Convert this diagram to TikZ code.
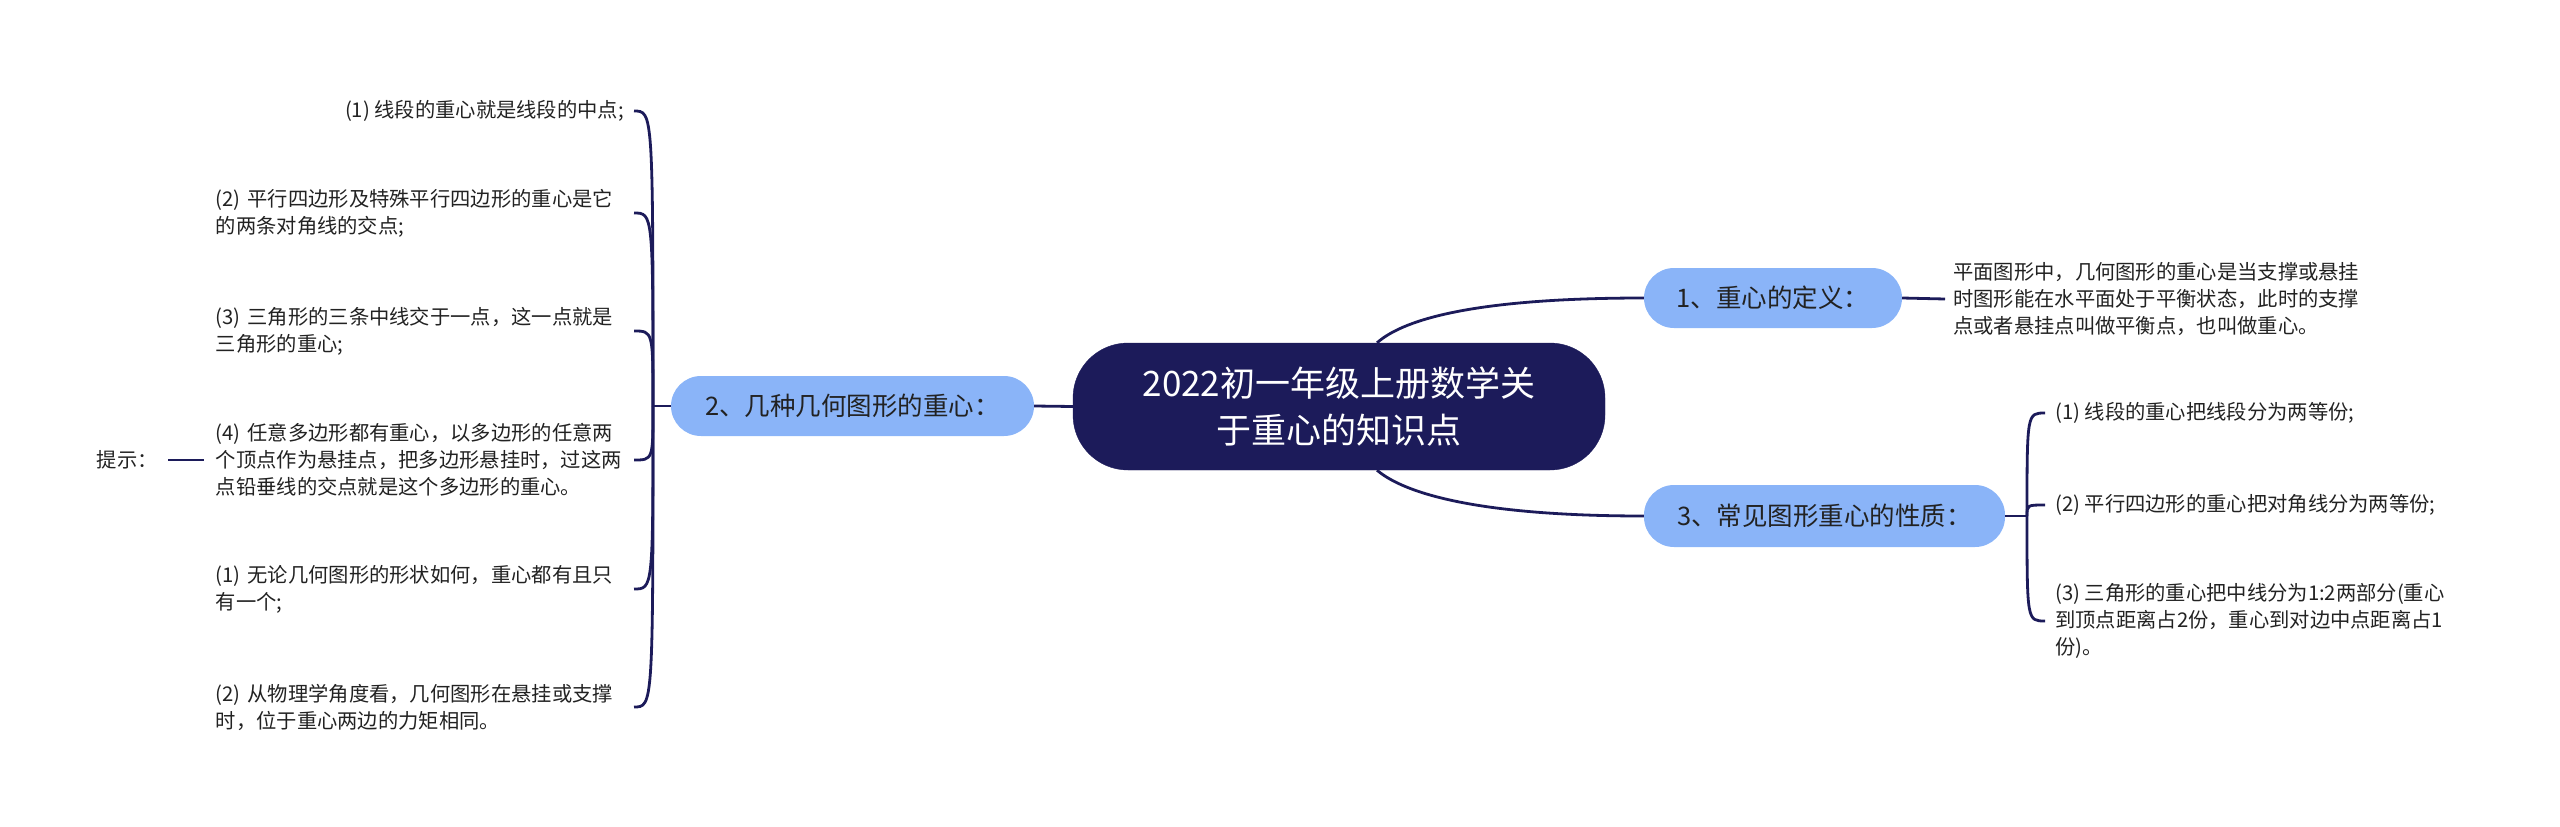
\documentclass[tikz,border=0pt]{standalone}
\usepackage{fontspec}
\setmainfont{Noto Sans CJK SC}
\usetikzlibrary{calc}
\definecolor{navy}{HTML}{1C1B5A}
\definecolor{lblue}{HTML}{8AB4F8}
\definecolor{txt}{HTML}{222222}
\tikzset{
  conn/.style={draw=navy, line width=2.8pt},
  rootbox/.style={fill=navy, draw=navy, rounded corners=55pt, minimum width=532pt, minimum height=127pt,
    text=white, align=center, font=\fontsize{35}{47}\selectfont, inner sep=0pt},
  topic/.style={fill=lblue, draw=none, rounded corners=30pt, minimum height=60pt, inner sep=0pt,
    text=txt, font=\fontsize{25.5}{30}\selectfont},
  leaf/.style={text=txt, font=\fontsize{20.3}{27}\selectfont, align=left, inner ysep=2pt},
  leafL/.style={leaf, anchor=east, text width=415pt, inner xsep=3pt},
  leafR/.style={leaf, anchor=west, inner xsep=10pt},
}
\begin{document}
\begin{tikzpicture}[x=1pt,y=-1pt]
\useasboundingbox (0,0) rectangle (2560,827);

% root and topics
\node[rootbox] (root) at (1339,406.5) {2022初一年级上册数学关\\于重心的知识点};
\node[topic, minimum width=258pt] (t1) at (1773,298) {1、重心的定义：};
\node[topic, minimum width=363pt] (t2) at (852.5,406) {2、几种几何图形的重心：};
\node[topic, minimum width=361pt, minimum height=62pt] (t3) at (1824.5,516) {3、常见图形重心的性质：};

% right: definition
\node[leafR, inner xsep=8pt] (def) at (1945,299) {平面图形中，几何图形的重心是当支撑或悬挂\\时图形能在水平面处于平衡状态，此时的支撑\\点或者悬挂点叫做平衡点，也叫做重心。};

% right: properties
\node[leafR] (r1) at (2045,413) {(1) 线段的重心把线段分为两等份;};
\node[leafR] (r2) at (2045,505) {(2) 平行四边形的重心把对角线分为两等份;};
\node[leafR] (r3) at (2045,621) {(3) 三角形的重心把中线分为1:2两部分(重心\\到顶点距离占2份，重心到对边中点距离占1\\份)。};

% left children
\node[leaf, anchor=east, inner xsep=10pt] (l1) at (634,111) {(1) 线段的重心就是线段的中点;};
\node[leafL] (l2) at (634,213) {(2) 平行四边形及特殊平行四边形的重心是它\\的两条对角线的交点;};
\node[leafL] (l3) at (634,331) {(3) 三角形的三条中线交于一点，这一点就是\\三角形的重心;};
\node[leafL] (l4) at (634,460) {(4) 任意多边形都有重心，以多边形的任意两\\个顶点作为悬挂点，把多边形悬挂时，过这两\\点铅垂线的交点就是这个多边形的重心。};
\node[leafL] (l5) at (634,589) {(1) 无论几何图形的形状如何，重心都有且只\\有一个;};
\node[leafL] (l6) at (634,707) {(2) 从物理学角度看，几何图形在悬挂或支撑\\时，位于重心两边的力矩相同。};
\node[leaf, anchor=east, inner xsep=10pt] (tip) at (168,460) {提示：};

% junctions
\coordinate (jl) at (653,406);
\coordinate (jr) at (2027,516);

% connectors root -> topics
\draw[conn] ($(root.north)+(38,0)$) .. controls (1405,318) and (1480,298) .. (t1.west);
\draw[conn] ($(root.south)+(38,0)$) .. controls (1405,494) and (1480,516) .. (t3.west);
\draw[conn] (root.west) -- (t2.east);
\draw[conn] (t1.east) -- (def.west);

% right branches
\draw[conn] (t3.east) -- (jr);
\foreach \c in {r1,r2,r3}{
  \draw[conn] (jr) .. controls (jr |- \c.west) and (jr |- \c.west) .. (\c.west);
}

% left branches
\draw[conn] (t2.west) -- (jl);
\foreach \c in {l1,l2,l3,l4,l5,l6}{
  \draw[conn] (jl) .. controls (jl |- \c.east) and (jl |- \c.east) .. (\c.east);
}
\draw[conn] (tip.east) -- ($(l4.west)+(-9,0)$);
\end{tikzpicture}
\end{document}
